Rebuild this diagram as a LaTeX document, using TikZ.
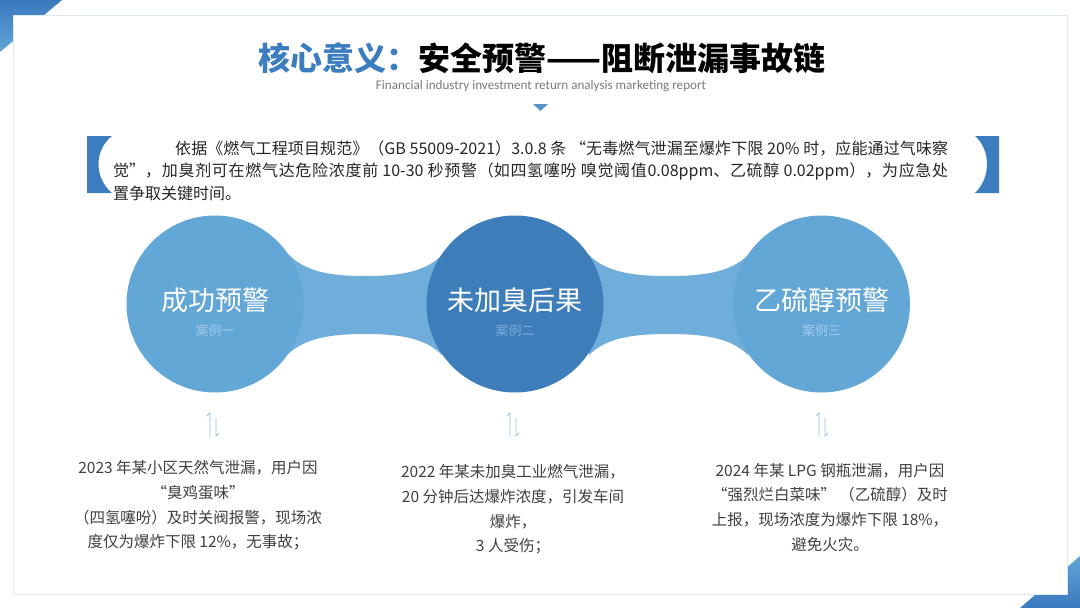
\documentclass[tikz,border=0pt]{standalone}
\usepackage{fontspec}
\setmainfont{Noto Sans CJK SC}
\newfontfamily\subfont{Carlito}
\XeTeXlinebreaklocale "zh"
\XeTeXlinebreakskip=0pt plus 2pt\relax
\definecolor{tblue}{HTML}{3C7DC0}
\definecolor{cside}{HTML}{62A7D6}
\definecolor{cmid}{HTML}{3D7DBA}
\definecolor{cbridge}{HTML}{6FAEDB}
\definecolor{subside}{HTML}{A3CAE9}
\definecolor{submid}{HTML}{7EAADA}
\definecolor{paratext}{HTML}{262626}
\definecolor{bodytext}{HTML}{404040}
\definecolor{framecol}{HTML}{DFE8F0}
\definecolor{cornerA}{HTML}{3A78BC}
\definecolor{cornerB}{HTML}{62A6DA}
\definecolor{harp}{HTML}{9CC3E4}
\definecolor{grey}{HTML}{7A7A7A}
\newcommand{\justline}[2]{\parbox[b]{#1}{\tolerance=9000\parfillskip=0pt\noindent #2}}
\tikzset{
  circ/.style={circle, minimum size=177pt, inner sep=0pt},
  ctitle/.style={text=white, font=\fontsize{27}{30}\selectfont, inner sep=0pt},
  csub/.style={font=\fontsize{13}{15}\selectfont, inner sep=0pt},
  para/.style={text=paratext, font=\fontsize{16}{18}\selectfont, inner sep=0pt, anchor=base west},
  body/.style={text=bodytext, font=\fontsize{15.5}{18}\selectfont, inner sep=0pt, anchor=base},
  harpoon/.style={draw=harp, line width=0.9pt},
}
\begin{document}
\begin{tikzpicture}[x=1pt,y=-1pt]
\useasboundingbox (0,0) rectangle (1080,608);
\fill[white] (0,0) rectangle (1080,608);
% corners
\shade[top color=cornerA, bottom color=cornerB] (0,0) -- (62,0) -- (0,52) -- cycle;
\shade[top color=cornerB, bottom color=cornerA] (1080,556) -- (1080,608) -- (1020,608) -- cycle;
\draw[framecol, fill=white, line width=1pt] (13,15) rectangle (1067,594);
% title
\node[inner sep=0pt] (title) at (542,58) {\fontsize{32}{38}\selectfont\bfseries{\color{tblue}核心意义：}安全预警——阻断泄漏事故链};
\node[inner sep=0pt, text=grey] (subtitle) at (541,86) {\subfont\fontsize{13.1}{15}\selectfont Financial industry investment return analysis marketing report};
\fill[tblue!85!white] (533,104) -- (548,104) -- (540.5,111) -- cycle;
% brackets
\fill[tblue] (87,136) -- (112,136) .. controls (94,150) and (94,178) .. (112,193) -- (87,193) -- cycle;
\fill[tblue] (999,136) -- (975,136) .. controls (991,150) and (991,178) .. (975,193) -- (999,193) -- cycle;
% paragraph
\node[para] (p1) at (175,154) {\justline{773pt}{依据《燃气工程项目规范》（GB 55009-2021）3.0.8 条 “无毒燃气泄漏至爆炸下限 20\% 时，应能通过气味察}};
\node[para] (p2) at (113,176) {\justline{835pt}{觉”，加臭剂可在燃气达危险浓度前 10-30 秒预警（如四氢噻吩 嗅觉阈值0.08ppm、乙硫醇 0.02ppm），为应急处}};
\node[para] (p3) at (113,199) {置争取关键时间。};
% bridges
\fill[cbridge] (287,253) .. controls (305,272) and (330,276) .. (365,276) .. controls (400,276) and (425,272) .. (442,255) -- (442,355) .. controls (425,338) and (400,334) .. (365,334) .. controls (330,334) and (305,338) .. (287,355) -- cycle;
\fill[cbridge] (589,255) .. controls (606,272) and (632,276) .. (668,276) .. controls (705,276) and (731,272) .. (748,255) -- (748,355) .. controls (731,338) and (705,334) .. (668,334) .. controls (632,334) and (606,338) .. (589,355) -- cycle;
% circles
\node[circ, fill=cside] (c1) at (215,304) {};
\node[circ, fill=cmid] (c2) at (515,304) {};
\node[circ, fill=cside] (c3) at (821.5,304) {};
\node[ctitle] (t1) at (215,300) {成功预警};
\node[ctitle] (t2) at (515,300) {未加臭后果};
\node[ctitle] (t3) at (821.5,300) {乙硫醇预警};
\node[csub, text=subside] (s1) at (215,331) {案例一};
\node[csub, text=submid] (s2) at (515,331) {案例二};
\node[csub, text=subside] (s3) at (821.5,331) {案例三};
% harpoons
\foreach \hx/\nm in {210/h1, 510/h2, 819/h3} {
  \draw[harpoon] (\hx-3,416) -- (\hx,413) -- (\hx,437);
  \draw[harpoon] (\hx+6,418) -- (\hx+6,436) -- (\hx+9,433);
}
% bottom texts
\node[body] (a1) at (198,473) {2023 年某小区天然气泄漏，用户因};
\node[body] (a2) at (198,498) {“臭鸡蛋味”};
\node[body] (a3) at (198,523) {（四氢噻吩）及时关阀报警，现场浓};
\node[body] (a4) at (198,547) {度仅为爆炸下限 12\%，无事故；};
\node[body] (b1) at (513,477) {2022 年某未加臭工业燃气泄漏，};
\node[body] (b2) at (513,502) {20 分钟后达爆炸浓度，引发车间};
\node[body] (b3) at (513,527) {爆炸，};
\node[body] (b4) at (513,551) {3 人受伤；};
\node[body] (d1) at (830,476) {2024 年某 LPG 钢瓶泄漏，用户因};
\node[body] (d2) at (830,500) {“强烈烂白菜味” （乙硫醇）及时};
\node[body] (d3) at (830,525) {上报，现场浓度为爆炸下限 18\%，};
\node[body] (d4) at (830,550) {避免火灾。};
\end{tikzpicture}
\end{document}
